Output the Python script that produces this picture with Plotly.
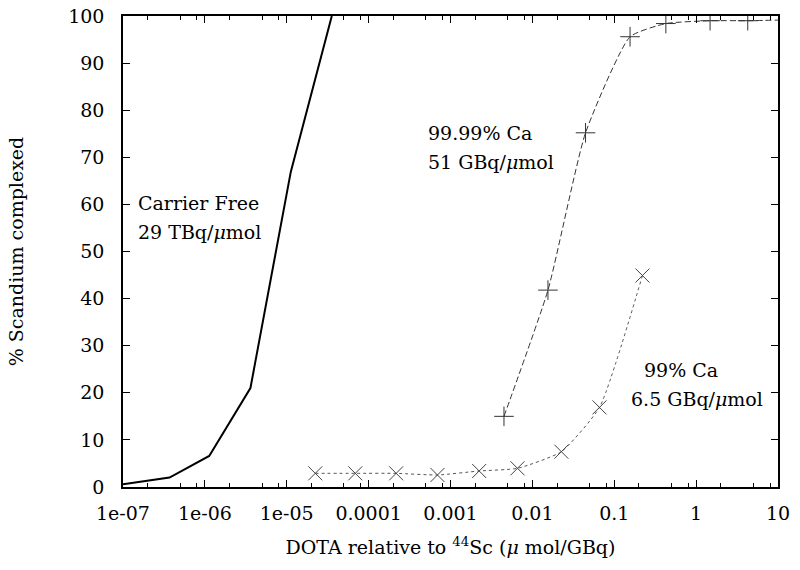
import plotly.graph_objects as go
import numpy as np

# Carrier free (solid line)
cf_x = [1e-07, 3.7e-07, 1.13e-06, 3.6e-06, 1.12e-05, 3.55e-05]
cf_y = [0.6, 2.0, 6.6, 21.0, 66.9, 100.0]

# 99.99% Ca (+ markers)
hp_x = [4.5e-03, 0.0155, 0.0446, 0.156, 0.427, 1.48, 4.27]
hp_y = [15.0, 41.8, 75.2, 95.6, 98.4, 99.0, 99.0]
hp_line_x = hp_x + [15.0]
hp_line_y = hp_y + [99.2]

# 99% Ca (x markers)
lp_x = [2.23e-05, 6.87e-05, 2.17e-04, 6.93e-04, 2.24e-03, 6.58e-03, 0.0226, 0.066, 0.221]
lp_y = [2.9, 2.9, 2.9, 2.55, 3.4, 3.97, 7.5, 16.9, 44.9]

x_tick_vals = [1e-07, 1e-06, 1e-05, 1e-04, 1e-03, 1e-02, 1e-01, 1, 10]
x_tick_text = ["1e-07", "1e-06", "1e-05", "0.0001", "0.001", "0.01", "0.1", "1", "10"]
y_tick_vals = list(range(0, 101, 10))

FONT = "DejaVu Serif"
FS = 19

minor_vals = [d * m for d in x_tick_vals[:-1] for m in (2, 5, 8)]

fig = go.Figure()
fig.add_trace(go.Scatter(x=cf_x, y=cf_y, mode="lines",
                         line=dict(color="black", width=2), showlegend=False))
fig.add_trace(go.Scatter(x=hp_line_x, y=hp_line_y, mode="lines",
                         line=dict(color="#333333", width=1, dash="6px,3px", shape="spline", smoothing=0.5),
                         showlegend=False))
fig.add_trace(go.Scatter(x=hp_x, y=hp_y, mode="markers",
                         marker=dict(symbol="cross-thin", size=14, line=dict(color="#333333", width=1)),
                         showlegend=False))
fig.add_trace(go.Scatter(x=lp_x, y=lp_y, mode="lines",
                         line=dict(color="#555555", width=1, dash="3px,3px", shape="spline", smoothing=0.5),
                         showlegend=False))
fig.add_trace(go.Scatter(x=lp_x, y=lp_y, mode="markers",
                         marker=dict(symbol="x-thin", size=14, line=dict(color="#444444", width=1)),
                         showlegend=False))

annots = [
    ("Carrier Free", 1.45e-07, 60.3),
    ("29 TBq/<i>μ</i>mol", 1.45e-07, 54.1),
    ("99.99% Ca", 5.0e-04, 75.2),
    ("51 GBq/<i>μ</i>mol", 5.0e-04, 69.0),
    ("99% Ca", 0.22, 24.8),
    ("6.5 GBq/<i>μ</i>mol", 0.15, 18.7),
]
for txt, ax, ay in annots:
    fig.add_annotation(x=np.log10(ax), y=ay, text=txt, showarrow=False,
                       xanchor="left", yanchor="middle",
                       font=dict(family=FONT, size=FS, color="black"))

fig.update_layout(
    width=800, height=570,
    margin=dict(l=123, r=22, t=16, b=83),
    paper_bgcolor="white", plot_bgcolor="white",
    font=dict(family=FONT, size=FS, color="black"),
)
fig.update_xaxes(
    type="log", range=[-7, 1], automargin=False,
    tickvals=x_tick_vals, ticktext=x_tick_text,
    ticks="inside", ticklen=7, tickwidth=1, tickcolor="black",
    minor=dict(tickvals=minor_vals, ticks="inside", ticklen=4, tickwidth=1, tickcolor="black"),
    showgrid=False, zeroline=False,
    showline=True, linecolor="black", linewidth=1.5, mirror="ticks",
    ticklabelstandoff=8,
    tickfont=dict(family=FONT, size=FS),
    title=dict(text="DOTA relative to <sup>44</sup>Sc (<i>μ</i> mol/GBq)", standoff=18,
               font=dict(family=FONT, size=FS)),
)
fig.update_yaxes(
    range=[0, 100], tickvals=y_tick_vals, automargin=False,
    ticks="inside", ticklen=7, tickwidth=1, tickcolor="black",
    showgrid=False, zeroline=False,
    showline=True, linecolor="black", linewidth=1.5, mirror="ticks",
    ticklabelstandoff=13,
    tickfont=dict(family=FONT, size=FS),
    title=dict(text="% Scandium complexed", standoff=40, font=dict(family=FONT, size=FS)),
)

fig.write_html("out.html", config={"displayModeBar": False},
               post_script="document.body.style.margin='0';")
